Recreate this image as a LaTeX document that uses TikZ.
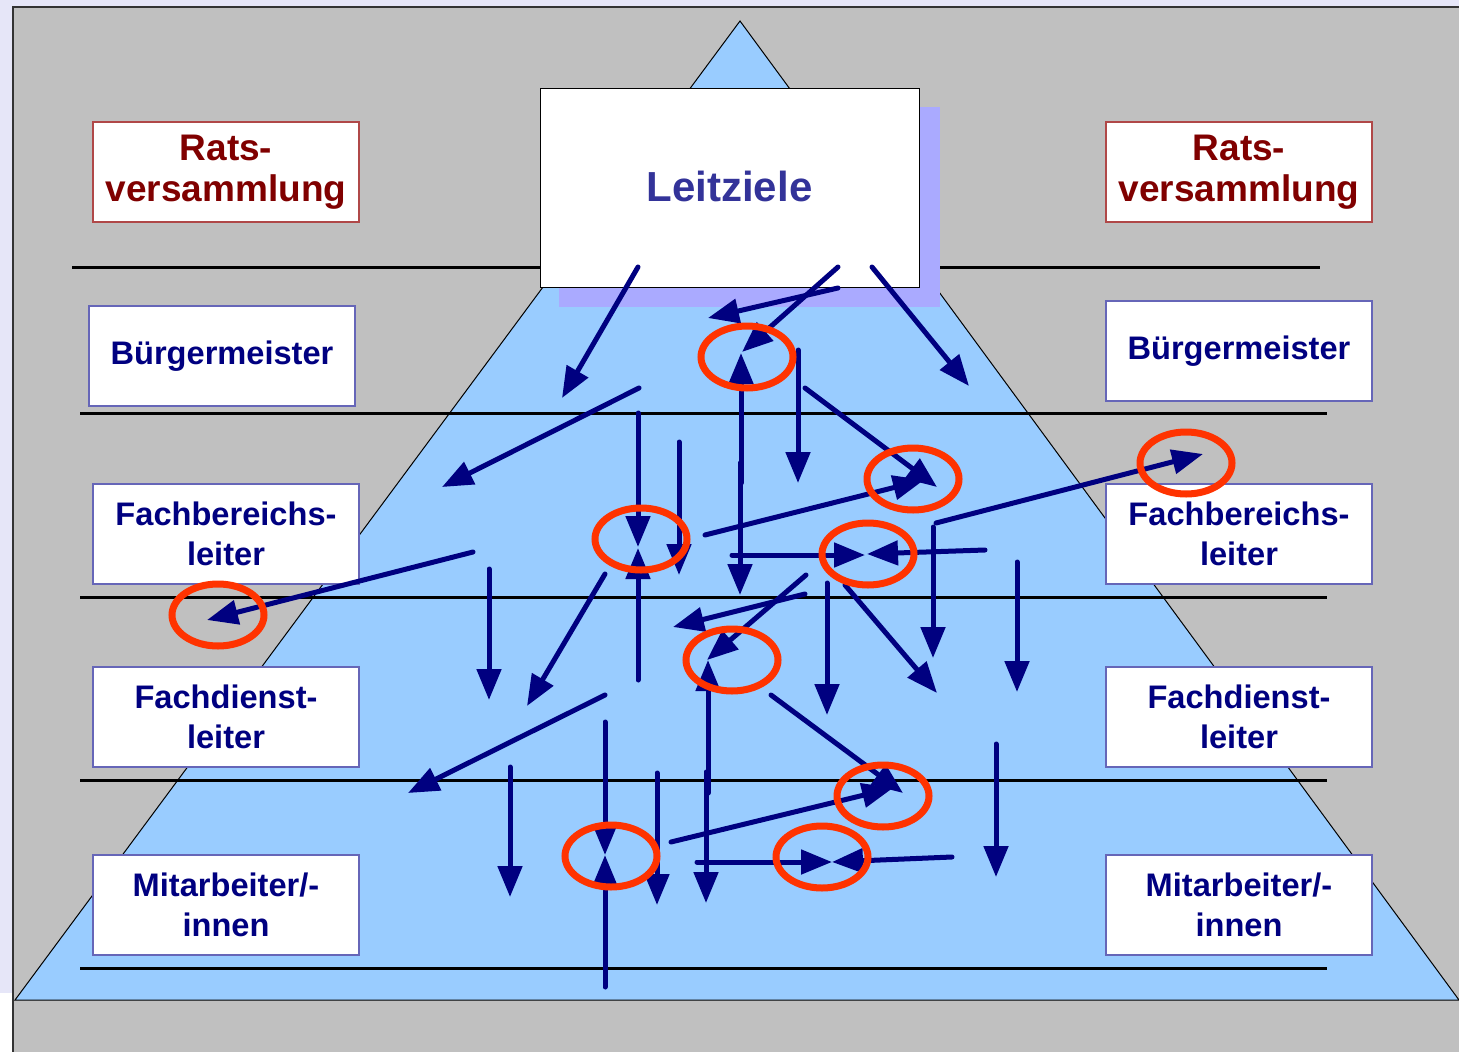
\documentclass[tikz,border=0pt]{standalone}
\usepackage{fontspec}
\setmainfont{Liberation Sans}
\usepackage{xcolor}
\usepackage{tikz}
\usetikzlibrary{arrows.meta,positioning}
\definecolor{panelgray}{HTML}{C0C0C0}
\definecolor{lavbg}{HTML}{E6E6F8}
\definecolor{pyrblue}{HTML}{99CCFF}
\definecolor{shadowblue}{HTML}{AAAAFF}
\definecolor{goaltext}{HTML}{333399}
\definecolor{arrnavy}{HTML}{000080}
\definecolor{clashred}{HTML}{FF3300}
\definecolor{ratsred}{HTML}{800000}
\definecolor{ratsframe}{HTML}{B04848}
\definecolor{levelframe}{HTML}{6666B8}
\tikzset{
  level/.style={rectangle, draw=levelframe, line width=1.5pt, fill=white,
    align=center, minimum width=266pt, minimum height=100pt, inner sep=0pt,
    text=arrnavy, font=\fontsize{32.6}{40}\selectfont\bfseries},
  rats/.style={level, draw=ratsframe, text=ratsred,
    font=\fontsize{37}{41}\selectfont\bfseries},
  goal/.style={rectangle, draw=black, line width=1pt, fill=white,
    minimum width=379pt, minimum height=199pt, inner sep=0pt,
    text=goaltext, font=\fontsize{42}{50}\selectfont\bfseries},
  tier/.style={draw=black, line width=3pt},
  arr/.style={-{Triangle[length=31pt,width=24pt]}, draw=arrnavy,
    line width=5pt, line cap=round},
  clash/.style={draw=clashred, line width=7pt},
}

\begin{document}
\begin{tikzpicture}[x=1pt,y=-1pt]
  \useasboundingbox (0,0) rectangle (1459,1052);
  % background and pyramid
  \fill[lavbg] (0,0) rectangle (1459,1052);
  \fill[white] (0,993) rectangle (13,1052);
  \fill[panelgray] (13,7) rectangle (1459,1052);
  \draw[black!80, line width=1.5pt] (13,1052) -- (13,7) -- (1459,7);
  \draw[fill=pyrblue, draw=black, line width=1pt] (740,21) -- (15,1000) -- (1459,1000) -- cycle;

  % level lines
  \draw[tier] (72,267) -- (1320,267);
  \draw[tier] (80,413) -- (1327,413);
  \draw[tier] (80,597) -- (1327,597);
  \draw[tier] (80,780) -- (1327,780);
  \draw[tier] (80,968) -- (1327,968);

  % top goal box with shadow
  \fill[shadowblue] (559,107) rectangle (940,307);
  \node[goal] (goal) at (729.5,187.5) {\raisebox{3pt}{Leitziele}};

  % left column
  \node[rats] (rats-l) at (226,172) {Rats-\\versammlung};
  \node[level] (bm-l) at (222,356) {Bürgermeister};
  \node[level] (fb-l) at (226,534) {Fachbereichs-\\leiter};
  \node[level] (fd-l) at (226,717) {Fachdienst-\\leiter};
  \node[level] (ma-l) at (226,905) {Mitarbeiter/-\\innen};
  % right column
  \node[rats] (rats-r) at (1239,172) {Rats-\\versammlung};
  \node[level] (bm-r) at (1239,351) {Bürgermeister};
  \node[level] (fb-r) at (1239,534) {Fachbereichs-\\leiter};
  \node[level] (fd-r) at (1239,717) {Fachdienst-\\leiter};
  \node[level] (ma-r) at (1239,905) {Mitarbeiter/-\\innen};

  % arrows
  \draw[arr] (638,267) -- (562,398);
  \draw[arr] (838,267) -- (742,352);
  \draw[arr] (838,288) -- (708,318);
  \draw[arr] (872,267) -- (969,386);
  \draw[arr] (741,483) -- (741,353);
  \draw[arr] (740,463) -- (740,595);
  \draw[arr] (798,350) -- (798,483);
  \draw[arr] (805,388) -- (937,487);
  \draw[arr] (639,388) -- (442,487);
  \draw[arr] (638,413) -- (638,547);
  \draw[arr] (638,680) -- (638,548);
  \draw[arr] (679,442) -- (679,575);
  \draw[arr] (705,535) -- (924,480);
  \draw[arr] (732,555) -- (865,555);
  \draw[arr] (985,550) -- (867,554);
  \draw[arr] (936,523) -- (1203,454);
  \draw[arr] (933,527) -- (933,658);
  \draw[arr] (1017,562) -- (1017,692);
  \draw[arr] (473,552) -- (207,620);
  \draw[arr] (489,569) -- (489,700);
  \draw[arr] (605,574) -- (527,706);
  \draw[arr] (806,575) -- (707,660);
  \draw[arr] (805,594) -- (673,627);
  \draw[arr] (708,793) -- (708,660);
  \draw[arr] (706,772) -- (706,903);
  \draw[arr] (827,583) -- (827,715);
  \draw[arr] (845,585) -- (937,693);
  \draw[arr] (605,695) -- (408,793);
  \draw[arr] (605,722) -- (605,855);
  \draw[arr] (605,987) -- (605,855);
  \draw[arr] (657,773) -- (657,905);
  \draw[arr] (771,695) -- (903,793);
  \draw[arr] (671,842) -- (893,788);
  \draw[arr] (697,862) -- (832,862);
  \draw[arr] (952,857) -- (832,862);
  \draw[arr] (996,744) -- (996,877);
  \draw[arr] (510,767) -- (510,897);

  % conflict marks
  \draw[clash] (747,357) ellipse [x radius=46pt, y radius=31pt];
  \draw[clash] (913,479) ellipse [x radius=46pt, y radius=31pt];
  \draw[clash] (641,539) ellipse [x radius=46pt, y radius=31pt];
  \draw[clash] (868,554) ellipse [x radius=46pt, y radius=31pt];
  \draw[clash] (1186,463) ellipse [x radius=46pt, y radius=31pt];
  \draw[clash] (218,615) ellipse [x radius=46pt, y radius=31pt];
  \draw[clash] (732,660) ellipse [x radius=46pt, y radius=31pt];
  \draw[clash] (883,796) ellipse [x radius=46pt, y radius=31pt];
  \draw[clash] (611,856) ellipse [x radius=46pt, y radius=31pt];
  \draw[clash] (822,857) ellipse [x radius=46pt, y radius=31pt];
\end{tikzpicture}
\end{document}
